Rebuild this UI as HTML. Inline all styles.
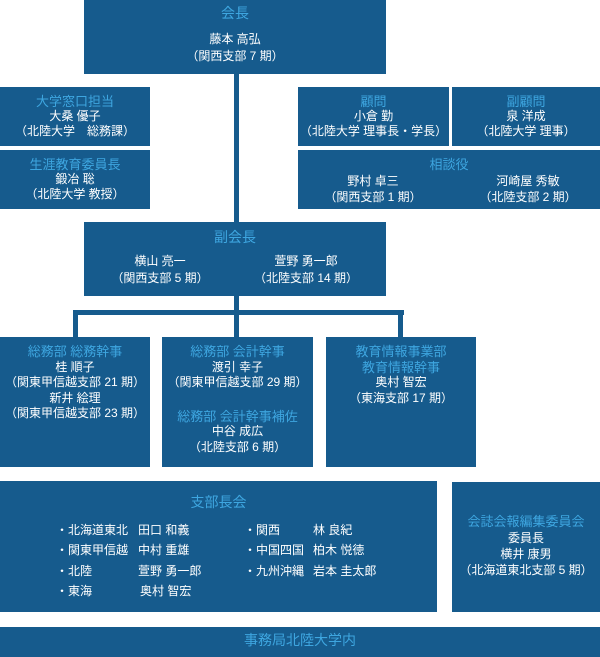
<!DOCTYPE html>
<html><head><meta charset="utf-8"><style>
body{margin:0;width:600px;height:657px;position:relative;background:#fff;overflow:hidden;font-family:"Liberation Sans","Noto Sans CJK JP",sans-serif;}
.b{position:absolute;background:#165b8d;color:#fff;text-align:center;font-size:12px;line-height:15px;box-sizing:border-box;}
.t{color:#3ea6e0;font-size:13px;}
.l{position:absolute;background:#165b8d;}
.r{position:absolute;font-size:12px;line-height:15px;color:#fff;white-space:nowrap;}
.c{transform:translateX(-50%);}
</style></head><body>
<div class="l" style="left:234px;top:70px;width:5px;height:155px"></div>
<div class="l" style="left:234px;top:294px;width:5px;height:20px"></div>
<div class="l" style="left:73px;top:310px;width:331px;height:5px"></div>
<div class="l" style="left:73px;top:310px;width:5px;height:30px"></div>
<div class="l" style="left:234px;top:310px;width:5px;height:30px"></div>
<div class="l" style="left:398px;top:310px;width:5px;height:30px"></div>

<div class="b" style="left:84px;top:0;width:302px;height:74px;padding-top:6px"><div class="t" style="font-size:14px">会長</div><div style="margin-top:11px">藤本 高弘</div><div style="margin-top:2px">（関西支部 7 期）</div></div>

<div class="b" style="left:0;top:87px;width:150px;height:59px;padding-top:7px"><div class="t">大学窓口担当</div><div>大桑 優子</div><div>（北陸大学　総務課）</div></div>
<div class="b" style="left:0;top:150px;width:150px;height:59px;padding-top:7px"><div class="t">生涯教育委員長</div><div>鍛冶 聡</div><div>（北陸大学 教授）</div></div>

<div class="b" style="left:298px;top:87px;width:151px;height:59px;padding-top:7px"><div class="t">顧問</div><div>小倉 勤</div><div>（北陸大学 理事長・学長）</div></div>
<div class="b" style="left:452px;top:87px;width:148px;height:59px;padding-top:7px"><div class="t">副顧問</div><div>泉 洋成</div><div>（北陸大学 理事）</div></div>
<div class="b" style="left:298px;top:150px;width:302px;height:59px;padding-top:7px"><div class="t">相談役</div>
<div class="r c" style="left:75px;top:24px">野村 卓三</div><div class="r c" style="left:75px;top:40px">（関西支部 1 期）</div>
<div class="r c" style="left:230px;top:24px">河崎屋 秀敏</div><div class="r c" style="left:230px;top:40px">（北陸支部 2 期）</div></div>

<div class="b" style="left:84px;top:222px;width:302px;height:74px;padding-top:8px"><div class="t" style="font-size:14px">副会長</div>
<div class="r c" style="left:76px;top:32px">横山 亮一</div><div class="r c" style="left:76px;top:49px">（関西支部 5 期）</div>
<div class="r c" style="left:222px;top:32px">萱野 勇一郎</div><div class="r c" style="left:222px;top:49px">（北陸支部 14 期）</div></div>

<div class="b" style="left:0;top:337px;width:150px;height:130px;padding-top:7px;line-height:15.5px"><div class="t">総務部 総務幹事</div><div>桂 順子</div><div>（関東甲信越支部 21 期）</div><div>新井 絵理</div><div>（関東甲信越支部 23 期）</div></div>
<div class="b" style="left:162px;top:337px;width:151px;height:130px;padding-top:7px;line-height:15.5px"><div class="t">総務部 会計幹事</div><div>渡引 幸子</div><div>（関東甲信越支部 29 期）</div><div class="t" style="margin-top:18px">総務部 会計幹事補佐</div><div>中谷 成広</div><div>（北陸支部 6 期）</div></div>
<div class="b" style="left:326px;top:337px;width:150px;height:130px;padding-top:7px;line-height:15.5px"><div class="t">教育情報事業部<br>教育情報幹事</div><div>奥村 智宏</div><div>（東海支部 17 期）</div></div>

<div class="b" style="left:0;top:481px;width:437px;height:131px;padding-top:14px"><div class="t" style="font-size:14px">支部長会</div>
<div class="r" style="left:56px;top:42px">・北海道東北</div><div class="r" style="left:138px;top:42px">田口 和義</div>
<div class="r" style="left:56px;top:62px">・関東甲信越</div><div class="r" style="left:138px;top:62px">中村 重雄</div>
<div class="r" style="left:56px;top:83px">・北陸</div><div class="r" style="left:138px;top:83px">萱野 勇一郎</div>
<div class="r" style="left:56px;top:103px">・東海</div><div class="r" style="left:140px;top:103px">奥村 智宏</div>
<div class="r" style="left:244px;top:42px">・関西</div><div class="r" style="left:313px;top:42px">林 良紀</div>
<div class="r" style="left:244px;top:62px">・中国四国</div><div class="r" style="left:313px;top:62px">柏木 悦徳</div>
<div class="r" style="left:244px;top:83px">・九州沖縄</div><div class="r" style="left:313px;top:83px">岩本 圭太郎</div></div>

<div class="b" style="left:452px;top:482px;width:148px;height:130px;padding-top:32px;line-height:16px"><div class="t">会誌会報編集委員会</div><div>委員長</div><div>横井 康男</div><div>（北海道東北支部 5 期）</div></div>

<div class="b" style="left:0;top:627px;width:600px;height:30px;padding-top:6px"><div class="t" style="font-size:14px">事務局北陸大学内</div></div>
</body></html>
